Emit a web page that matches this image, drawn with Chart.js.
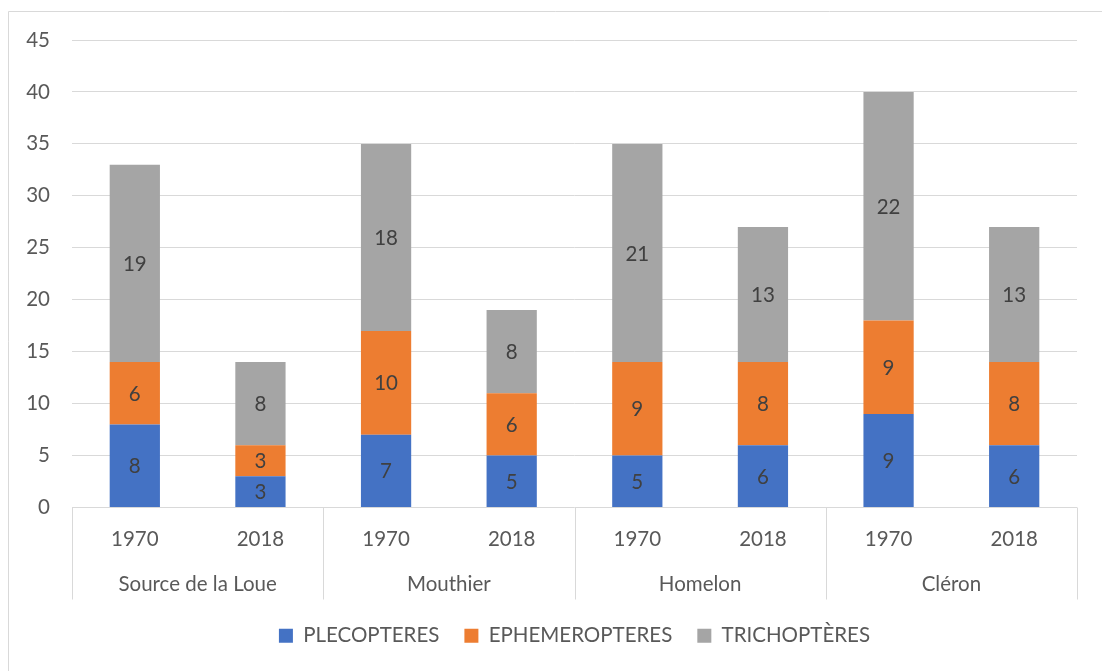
<!DOCTYPE html>
<html><head><meta charset="utf-8">
<script src="https://cdn.jsdelivr.net/npm/chart.js@4.4.1/dist/chart.umd.min.js"></script>
<style>html,body{margin:0;padding:0;background:#fff;overflow:hidden}</style>
</head><body>
<canvas id="c" width="1102" height="671" style="display:block;width:1102px;height:671px"></canvas>
<script>
const years = ['1970','2018','1970','2018','1970','2018','1970','2018'];
const sites = ['Source de la Loue','Mouthier','Homelon','Cléron'];
const seriesNames = ['PLECOPTERES','EPHEMEROPTERES','TRICHOPTÈRES'];
const plecopteres = [8,3,7,5,5,6,9,6];
const ephemeropteres = [6,3,10,6,9,8,9,8];
const trichopteres = [19,8,18,8,21,13,22,13];
const yTickMin = 0, yTickMax = 45, yTickStep = 5;
const colors = ['#4472C4','#ED7D31','#A5A5A5'];

const FONT = 'Lato';
const FS = 20.5;

const borderPlugin = {
  id:'borderPlugin',
  beforeDraw(chart){
    const ctx = chart.ctx;
    ctx.save();
    ctx.fillStyle = '#fff';
    ctx.fillRect(0,0,chart.width,chart.height);
    ctx.strokeStyle = '#D9D9D9';
    ctx.lineWidth = 1;
    ctx.beginPath();
    ctx.moveTo(8.5, chart.height+2);
    ctx.lineTo(8.5, 11.5);
    ctx.lineTo(chart.width+2, 11.5);
    ctx.stroke();
    ctx.restore();
  }
};

const valueLabels = {
  id:'valueLabels',
  afterDatasetsDraw(chart){
    const ctx = chart.ctx;
    ctx.save();
    ctx.font = FS + 'px ' + FONT;
    ctx.fillStyle = '#404040';
    ctx.textAlign = 'center';
    ctx.textBaseline = 'middle';
    chart.data.datasets.forEach((ds, di) => {
      const meta = chart.getDatasetMeta(di);
      meta.data.forEach((el, i) => {
        const v = ds.data[i];
        ctx.fillText(String(v), el.x, (el.y + el.base) / 2 + 1);
      });
    });
    ctx.restore();
  }
};

const groupAxis = {
  id:'groupAxis',
  afterDraw(chart){
    const ctx = chart.ctx;
    const xs = chart.scales.x;
    const area = chart.chartArea;
    const bottom = area.bottom + 92;
    ctx.save();
    ctx.strokeStyle = '#D9D9D9';
    ctx.lineWidth = 1;
    const bounds = [area.left];
    for (let g = 1; g < sites.length; g++) {
      bounds.push((xs.getPixelForValue(2*g-1) + xs.getPixelForValue(2*g)) / 2);
    }
    bounds.push(area.right);
    ctx.beginPath();
    bounds.forEach(b => {
      const x = Math.round(b) + 0.5;
      ctx.moveTo(x, area.bottom);
      ctx.lineTo(x, bottom);
    });
    ctx.stroke();
    ctx.font = FS + 'px ' + FONT;
    ctx.fillStyle = '#595959';
    ctx.textAlign = 'center';
    ctx.textBaseline = 'middle';
    sites.forEach((s, g) => {
      const cx = (xs.getPixelForValue(2*g) + xs.getPixelForValue(2*g+1)) / 2;
      ctx.fillText(s, cx, area.bottom + 77);
    });
    ctx.restore();
  }
};

new Chart(document.getElementById('c'), {
  type:'bar',
  data:{
    labels: years,
    datasets:[
      {label:seriesNames[0], data:plecopteres, backgroundColor:colors[0]},
      {label:seriesNames[1], data:ephemeropteres, backgroundColor:colors[1]},
      {label:seriesNames[2], data:trichopteres, backgroundColor:colors[2]}
    ]
  },
  options:{
    responsive:false,
    devicePixelRatio:1,
    animation:false,
    datasets:{bar:{categoryPercentage:0.4, barPercentage:1, borderWidth:0}},
    layout:{padding:{top:40, right:25, left:0, bottom:15}},
    plugins:{
      legend:{
        position:'bottom',
        fullSize:false,
        labels:{
          font:{family:FONT, size:FS},
          color:'#595959',
          boxWidth:14, boxHeight:14,
          padding:25
        }
      },
      tooltip:{enabled:false}
    },
    scales:{
      x:{
        stacked:true,
        grid:{display:false, drawTicks:false},
        border:{display:false},
        ticks:{font:{family:FONT,size:FS}, color:'#595959', padding:20, maxRotation:0, autoSkip:false},
        afterFit(s){ s.height = 93; }
      },
      y:{
        stacked:true,
        min:yTickMin, max:yTickMax,
        grid:{color:'#D9D9D9', drawTicks:false},
        border:{display:false},
        ticks:{stepSize:yTickStep, font:{family:FONT,size:FS}, color:'#595959', padding:22},
        afterFit(s){ s.width = 72; }
      }
    }
  },
  plugins:[borderPlugin, valueLabels, groupAxis]
});
</script>
</body></html>
